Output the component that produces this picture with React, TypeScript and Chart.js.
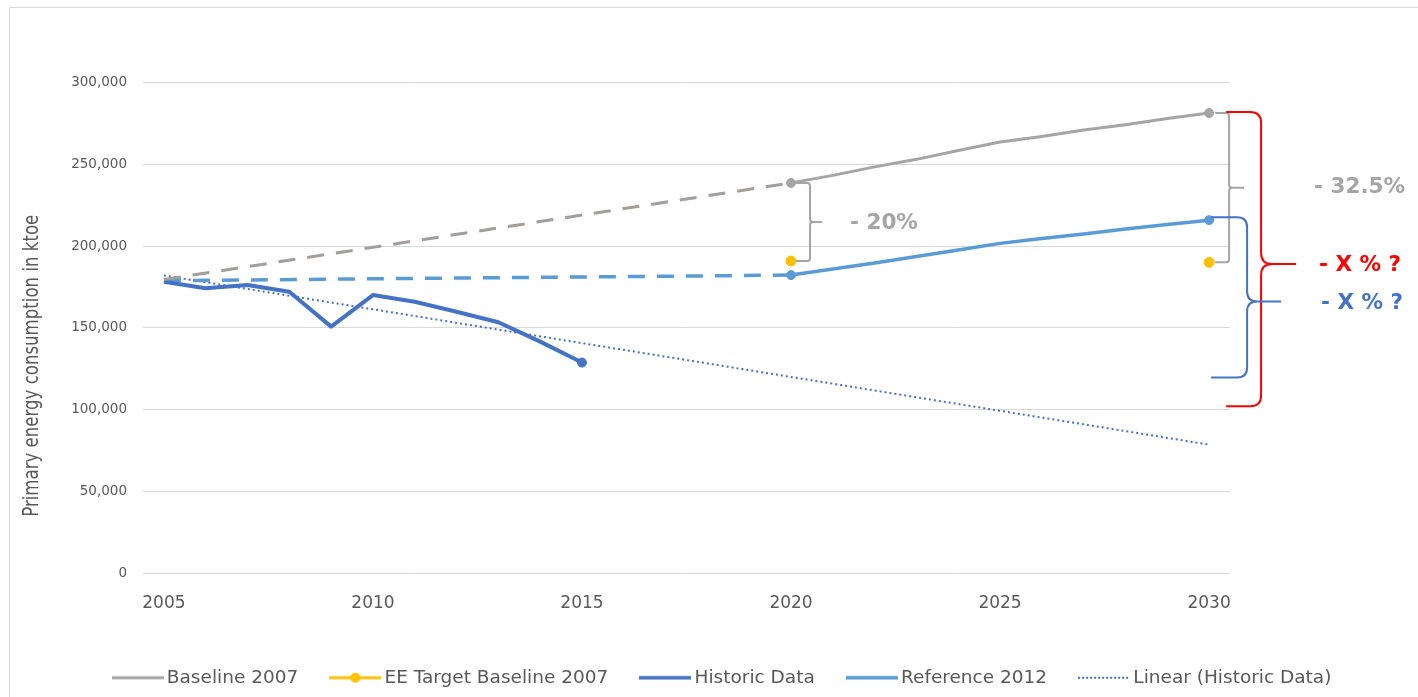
import { useEffect, useRef } from 'react';
import { Chart, registerables } from 'chart.js';

Chart.register(...registerables);

// Categories (one per year) and the years that carry a tick label
const YEARS = [
  '2005', '2006', '2007', '2008', '2009', '2010', '2011', '2012', '2013',
  '2014', '2015', '2016', '2017', '2018', '2019', '2020', '2021', '2022',
  '2023', '2024', '2025', '2026', '2027', '2028', '2029', '2030',
];
const TICK_YEARS = ['2005', '2010', '2015', '2020', '2025', '2030'];
const Y_TICKS = [0, 50000, 100000, 150000, 200000, 250000, 300000];

// Series values in ktoe
const BASELINE_2007 = [
  179500, null, null, null, null, null, null, null, null, null, null, null, null, null, null,
  238600, 243200, 248400, 253000, 258400, 263600, 267000, 270900, 274200, 278000, 281300,
];
const EE_TARGET_BASELINE_2007 = [
  null, null, null, null, null, null, null, null, null, null, null, null, null, null, null,
  190800, null, null, null, null, null, null, null, null, null, 190000,
];
const HISTORIC_DATA = [
  178100, 174100, 176100, 172000, 150700, 170000, 165900, 159800, 153400, 141500, 128700,
];
const REFERENCE_2012 = [
  178800, null, null, null, null, null, null, null, null, null, null, null, null, null, null,
  182200, 185900, 189600, 193600, 197500, 201600, 204600, 207400, 210400, 213200, 215800,
];
const LINEAR_HISTORIC = [
  182000, null, null, null, null, null, null, null, null, null, null, null, null,
  null, null, null, null, null, null, null, null, null, null, null, null, 78500,
];

// Brace annotations on the right-hand side
const RED_BRACE_BOTTOM = 102000;
const RED_BRACE_TIP = 189000;
const BLUE_BRACE_BOTTOM = 119500;
const BLUE_BRACE_TIP = 166000;
const LABEL_20 = '- 20%';
const LABEL_325 = '- 32.5%';
const LABEL_X = '- X % ?';
const Y_TITLE = 'Primary energy consumption in ktoe';

const GREY = '#a5a5a5';
const GREY_DASH = '#a39e99';
const BLUE_DARK = '#4472c4';
const BLUE_LIGHT = '#5b9bd5';
const GOLD = '#ffc000';
const TEXT = '#595959';
const FONT = "'DejaVu Sans', Verdana, sans-serif";

function makeSwatch(color: string, width: number, dash: number[] | null, dot: boolean) {
  const c = document.createElement('canvas');
  c.width = 52;
  c.height = 14;
  const g = c.getContext('2d')!;
  g.strokeStyle = color;
  g.lineWidth = width;
  if (dash) g.setLineDash(dash);
  g.beginPath();
  g.moveTo(0, 7);
  g.lineTo(52, 7);
  g.stroke();
  if (dot) {
    g.fillStyle = color;
    g.beginPath();
    g.arc(26, 7, 5, 0, Math.PI * 2);
    g.fill();
  }
  return c;
}

function brace(
  ctx: CanvasRenderingContext2D,
  xStub: number, xSpine: number, xTip: number,
  yTop: number, yMid: number, yBot: number, r: number,
) {
  ctx.beginPath();
  ctx.moveTo(xStub, yTop);
  ctx.lineTo(xSpine - r, yTop);
  ctx.quadraticCurveTo(xSpine, yTop, xSpine, yTop + r);
  ctx.lineTo(xSpine, yMid - r);
  ctx.quadraticCurveTo(xSpine, yMid, xSpine + r, yMid);
  ctx.lineTo(xTip, yMid);
  ctx.moveTo(xSpine + r, yMid);
  ctx.quadraticCurveTo(xSpine, yMid, xSpine, yMid + r);
  ctx.lineTo(xSpine, yBot - r);
  ctx.quadraticCurveTo(xSpine, yBot, xSpine - r, yBot);
  ctx.lineTo(xStub, yBot);
  ctx.stroke();
}

const annotationPlugin = {
  id: 'braceAnnotations',
  afterDraw(chart: any) {
    const { ctx, chartArea, scales } = chart;
    const xs = scales.x;
    const ys = scales.y;
    const i20 = YEARS.indexOf('2020');
    const i30 = YEARS.indexOf('2030');
    const x20 = xs.getPixelForValue(i20);
    const x30 = xs.getPixelForValue(i30);

    ctx.save();
    ctx.lineJoin = 'round';
    ctx.lineCap = 'butt';

    // 2020: baseline vs EE target
    const b20 = ys.getPixelForValue(BASELINE_2007[i20] as number);
    const e20 = ys.getPixelForValue(EE_TARGET_BASELINE_2007[i20] as number);
    ctx.strokeStyle = GREY;
    ctx.lineWidth = 2;
    brace(ctx, x20 + 5, x20 + 19, x20 + 31, b20, (b20 + e20) / 2, e20, 3);

    // 2030: baseline vs EE target
    const b30 = ys.getPixelForValue(BASELINE_2007[i30] as number);
    const e30 = ys.getPixelForValue(EE_TARGET_BASELINE_2007[i30] as number);
    brace(ctx, x30 + 6, x30 + 20, x30 + 35, b30, (b30 + e30) / 2, e30, 3);

    // red: baseline to lower bound
    const redBot = ys.getPixelForValue(RED_BRACE_BOTTOM);
    const redTip = ys.getPixelForValue(RED_BRACE_TIP);
    ctx.strokeStyle = '#ff0000';
    brace(ctx, x30 + 17, x30 + 52, x30 + 87, b30 - 1, redTip, redBot, 11);

    // blue: reference to lower bound
    const r30 = ys.getPixelForValue(REFERENCE_2012[i30] as number);
    const blueBot = ys.getPixelForValue(BLUE_BRACE_BOTTOM);
    const blueTip = ys.getPixelForValue(BLUE_BRACE_TIP);
    ctx.strokeStyle = BLUE_DARK;
    brace(ctx, x30 + 2, x30 + 38, x30 + 72, r30 - 3, blueTip, blueBot, 10);

    // percentage labels
    ctx.font = `bold 21.5px ${FONT}`;
    ctx.textAlign = 'left';
    ctx.textBaseline = 'middle';
    ctx.fillStyle = GREY;
    ctx.fillText(LABEL_20, x20 + 59, (b20 + e20) / 2 + 1);
    ctx.fillText(LABEL_325, x30 + 105, (b30 + e30) / 2);
    ctx.fillStyle = '#ff0000';
    ctx.fillText(LABEL_X, x30 + 110, redTip + 1);
    ctx.fillStyle = BLUE_DARK;
    ctx.fillText(LABEL_X, x30 + 112, blueTip + 2);

    // y-axis title
    ctx.translate(27.5, (chartArea.top + chartArea.bottom) / 2 + 38);
    ctx.rotate(-Math.PI / 2);
    ctx.font = "21.5px 'Liberation Sans Narrow', 'DejaVu Sans Condensed', sans-serif";
    ctx.fillStyle = TEXT;
    ctx.textAlign = 'center';
    ctx.textBaseline = 'alphabetic';
    ctx.fillText(Y_TITLE, 0, 0, 302);
    ctx.restore();
  },
};

export default function App() {
  const canvasRef = useRef<HTMLCanvasElement | null>(null);

  useEffect(() => {
    if (!canvasRef.current) return;
    const swatches = [
      makeSwatch(GREY, 3, null, false),
      makeSwatch(GOLD, 3, null, true),
      makeSwatch(BLUE_DARK, 3.5, null, false),
      makeSwatch(BLUE_LIGHT, 3.5, null, false),
      makeSwatch(BLUE_DARK, 2, [2, 2], false),
    ];
    const i20 = YEARS.indexOf('2020');
    const i30 = YEARS.indexOf('2030');
    const endMarkers = (c: any) => (c.dataIndex === i20 || c.dataIndex === i30 ? 4.5 : 0);
    // the stretch up to 2020 is a projection and is drawn dashed
    const projected = (c: any) => c.p1DataIndex <= i20;

    const chart = new Chart(canvasRef.current, {
      type: 'line',
      data: {
        labels: YEARS,
        datasets: [
          {
            label: 'Baseline 2007',
            data: BASELINE_2007,
            borderColor: GREY,
            backgroundColor: GREY,
            borderWidth: 3,
            spanGaps: true,
            pointRadius: endMarkers,
            pointBorderWidth: 1,
            segment: {
              borderDash: (c: any) => (projected(c) ? [17, 12] : undefined),
              borderColor: (c: any) => (projected(c) ? GREY_DASH : undefined),
            },
          },
          {
            label: 'EE Target Baseline 2007',
            data: EE_TARGET_BASELINE_2007,
            borderColor: GOLD,
            backgroundColor: GOLD,
            borderWidth: 3,
            spanGaps: false,
            pointRadius: 5,
            pointBorderWidth: 1,
          },
          {
            label: 'Historic Data',
            data: HISTORIC_DATA,
            borderColor: BLUE_DARK,
            backgroundColor: BLUE_DARK,
            borderWidth: 4,
            pointRadius: (c: any) => (c.dataIndex === HISTORIC_DATA.length - 1 ? 4.5 : 0),
            pointBorderWidth: 1,
          },
          {
            label: 'Reference 2012',
            data: REFERENCE_2012,
            borderColor: BLUE_LIGHT,
            backgroundColor: BLUE_LIGHT,
            borderWidth: 3.5,
            spanGaps: true,
            pointRadius: endMarkers,
            pointBorderWidth: 1,
            segment: {
              borderDash: (c: any) => (projected(c) ? [17, 12] : undefined),
            },
          },
          {
            label: 'Linear (Historic Data)',
            data: LINEAR_HISTORIC,
            borderColor: BLUE_DARK,
            backgroundColor: BLUE_DARK,
            borderWidth: 2,
            borderDash: [2, 3],
            spanGaps: true,
            pointRadius: 0,
          },
        ],
      },
      options: {
        animation: false,
        responsive: true,
        maintainAspectRatio: false,
        events: [],
        layout: { padding: { left: 21, top: 74.5, right: 0, bottom: 0 } },
        elements: { line: { tension: 0, borderJoinStyle: 'round' } },
        scales: {
          x: {
            type: 'category',
            offset: true,
            grid: { display: false },
            border: { display: false },
            ticks: {
              autoSkip: false,
              maxRotation: 0,
              padding: 12,
              color: TEXT,
              font: { size: 17, family: FONT },
              callback: (_v: any, i: number) => (TICK_YEARS.includes(YEARS[i]) ? YEARS[i] : ''),
            },
            afterFit: (s: any) => { s.height = 58.5; },
          },
          y: {
            min: 0,
            max: 300000,
            grid: { color: '#d9d9d9', lineWidth: 1, drawTicks: false },
            border: { display: false },
            ticks: {
              padding: 16,
              color: TEXT,
              font: { size: 13.5, family: FONT },
              callback: (v: any) => Number(v).toLocaleString('en-US'),
            },
            afterBuildTicks: (s: any) => { s.ticks = Y_TICKS.map((value) => ({ value })); },
            afterFit: (s: any) => { s.width = 112; },
          },
          yRight: {
            type: 'linear',
            position: 'right',
            display: true,
            grid: { display: false },
            border: { display: false },
            ticks: { display: false },
            afterFit: (s: any) => { s.width = 188; },
          },
        },
        plugins: {
          tooltip: { enabled: false },
          legend: {
            position: 'bottom',
            align: 'center',
            labels: {
              usePointStyle: true,
              pointStyleWidth: 40,
              padding: 37,
              color: TEXT,
              font: { size: 18.5, family: FONT },
              generateLabels: (c: any) =>
                c.data.datasets.map((ds: any, i: number) => ({
                  text: ds.label,
                  pointStyle: swatches[i],
                  fillStyle: 'transparent',
                  strokeStyle: 'transparent',
                  lineWidth: 0,
                  hidden: false,
                  datasetIndex: i,
                  fontColor: TEXT,
                })),
            },
          },
        },
      },
      plugins: [annotationPlugin],
    } as any);
    return () => chart.destroy();
  }, []);

  return (
    <div
      style={{
        position: 'absolute',
        left: 9,
        top: 7,
        width: 1409,
        height: 690,
        boxSizing: 'border-box',
        borderLeft: '1px solid #d9d9d9',
        borderTop: '1px solid #d9d9d9',
        background: '#ffffff',
      }}
    >
      <div style={{ position: 'relative', width: 1408, height: 689 }}>
        <canvas ref={canvasRef} />
      </div>
    </div>
  );
}
